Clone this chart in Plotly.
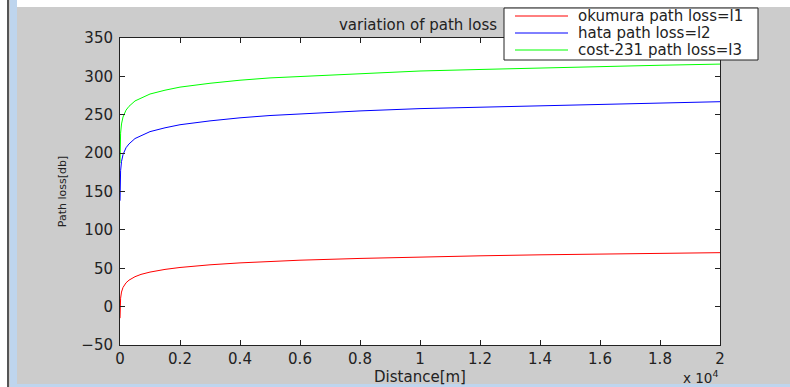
import plotly.graph_objects as go

# Distance samples [m]
distance = [1, 5, 10, 20, 50, 100, 200, 300, 500, 700, 1000, 1500, 2000, 3000,
            4000, 5000, 6000, 8000, 10000, 12000, 14000, 16000, 18000, 20000]
# Path losses [dB]
okumura = [-15, -1, 5, 11, 19, 25, 31, 34.5, 39, 42, 45, 48.5, 51, 54.5,
           57, 59, 60.5, 62.8, 64.7, 66.2, 67.5, 68.6, 69.5, 70.3]
hata = [138, 159, 168, 177, 189, 198, 207, 212, 219, 223, 228, 233, 237, 242,
        246, 249, 251, 255, 258, 260, 262, 264, 265.5, 267]
cost231 = [187, 208, 217, 226, 238, 247, 256, 261, 268, 272, 277, 282, 286, 291,
           295, 298, 300, 304, 307, 309, 311, 313, 314.5, 316]

series_names = ["okumura path loss=l1", "hata path loss=l2", "cost-231 path loss=l3"]
series_colors = ["#ff0000", "#0000ff", "#00ff00"]

x_ticks = [0, 2000, 4000, 6000, 8000, 10000, 12000, 14000, 16000, 18000, 20000]
x_tick_labels = ["0", "0.2", "0.4", "0.6", "0.8", "1", "1.2", "1.4", "1.6", "1.8", "2"]
y_ticks = [-50, 0, 50, 100, 150, 200, 250, 300, 350]

W, H = 790, 387
L, R, T, B = 120, 720, 38, 345

def px(x):
    return (x - L) / (R - L)

def py(y):
    return (B - y) / (B - T)

FONT = "DejaVu Sans, Liberation Sans, sans-serif"
TXT = "#222222"

fig = go.Figure()
for vals, name, col in zip([okumura, hata, cost231], series_names, series_colors):
    fig.add_trace(go.Scatter(x=distance, y=vals, mode="lines", name=name,
                             line=dict(color=col, width=1), showlegend=False))

axis_common = dict(showgrid=False, zeroline=False, showline=True, linecolor="#222222",
                   linewidth=1, mirror="ticks", ticks="inside", ticklen=5,
                   tickcolor="#222222", tickfont=dict(family=FONT, size=15, color=TXT))

fig.update_xaxes(range=[0, 20000], tickvals=x_ticks, ticktext=x_tick_labels,
                 title=dict(text="Distance[m]", font=dict(family=FONT, size=15, color=TXT),
                            standoff=0), **axis_common)
fig.update_yaxes(range=[-50, 350], tickvals=y_ticks, ticklabelstandoff=3,
                 title=dict(text="Path loss[db]", font=dict(family=FONT, size=11, color=TXT),
                            standoff=12), **axis_common)

shapes = [
    dict(type="rect", xref="paper", yref="paper", x0=px(-5), x1=px(7), y0=py(-5), y1=py(400),
         fillcolor="#ffffff", line=dict(width=0), layer="above"),
    dict(type="rect", xref="paper", yref="paper", x0=px(7), x1=px(9), y0=py(-5), y1=py(400),
         fillcolor="#555555", line=dict(width=0), layer="above"),
    dict(type="rect", xref="paper", yref="paper", x0=px(10), x1=px(17), y0=py(-5), y1=py(400),
         fillcolor="#bed5ee", line=dict(width=0), layer="above"),
    dict(type="rect", xref="paper", yref="paper", x0=px(17), x1=px(800), y0=py(-5), y1=py(7),
         fillcolor="#ffffff", line=dict(width=0), layer="above"),
    dict(type="rect", xref="paper", yref="paper", x0=px(17), x1=px(800), y0=py(384), y1=py(400),
         fillcolor="#bed5ee", line=dict(width=0), layer="above"),
    # legend box
    dict(type="rect", xref="paper", yref="paper", x0=px(504), x1=px(758), y0=py(60), y1=py(8),
         fillcolor="#ffffff", line=dict(color="#222222", width=1), layer="above"),
]
annotations = [dict(text="x 10<sup>4</sup>", xref="paper", yref="paper",
                    x=px(700), y=py(377), xanchor="center", yanchor="middle",
                    showarrow=False, font=dict(family=FONT, size=13.5, color=TXT))]

legend_rows = [16, 33, 50]
for name, col, ry in zip(series_names, series_colors, legend_rows):
    shapes.append(dict(type="line", xref="paper", yref="paper", x0=px(515), x1=px(568),
                       y0=py(ry), y1=py(ry), line=dict(color=col, width=1), layer="above"))
    annotations.append(dict(text=name, xref="paper", yref="paper", x=px(576), y=py(ry),
                            xanchor="left", yanchor="middle", showarrow=False,
                            font=dict(family=FONT, size=15, color=TXT)))

fig.update_layout(
    width=W, height=H,
    margin=dict(l=L, r=W - R, t=T, b=H - B, pad=0, autoexpand=False),
    paper_bgcolor="#cccccc", plot_bgcolor="#ffffff",
    font=dict(family=FONT, size=14, color=TXT),
    title=dict(text="variation of path loss", xref="container", x=418 / W, xanchor="center",
               yref="container", y=1 - 25 / H, yanchor="middle",
               font=dict(family=FONT, size=15, color=TXT)),
    showlegend=False,
    annotations=annotations,
    shapes=shapes,
)

fig.write_html("out.html", config={"displayModeBar": False},
               post_script="document.body.style.margin='0';document.body.style.overflow='hidden';")
